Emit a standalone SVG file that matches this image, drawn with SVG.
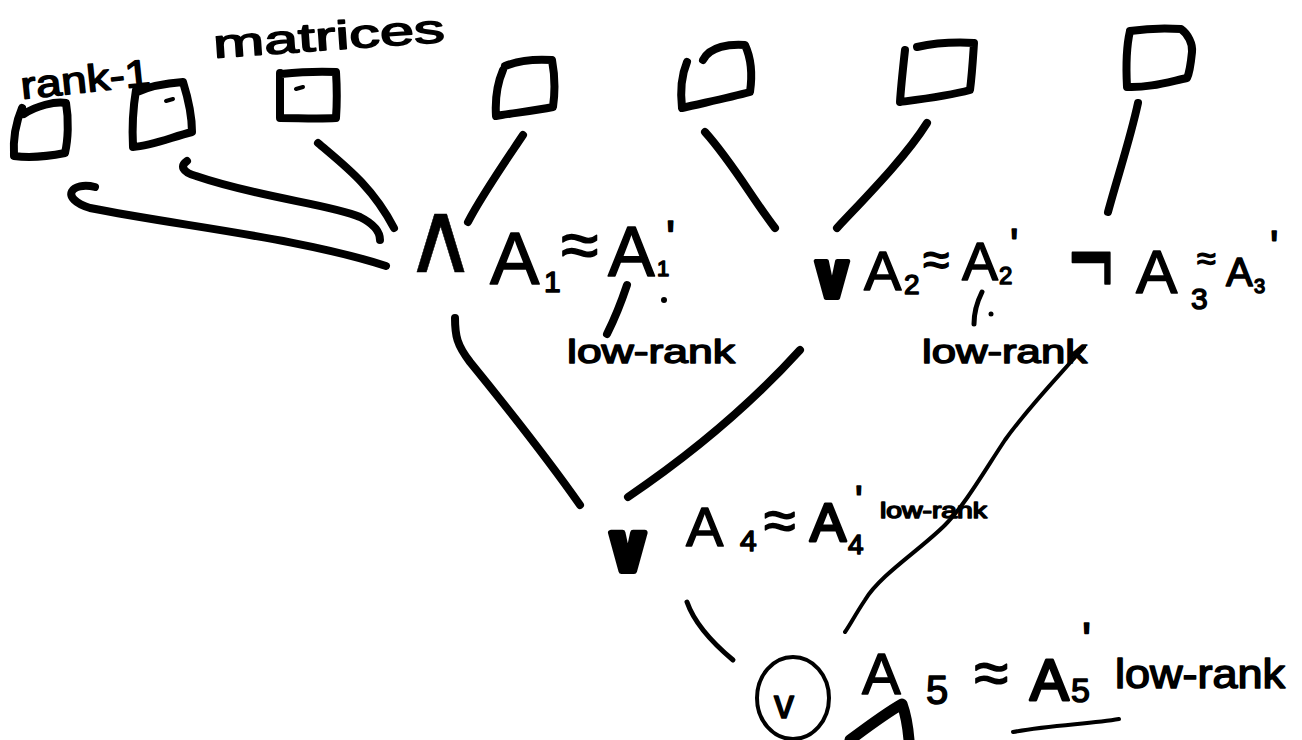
<svg xmlns="http://www.w3.org/2000/svg" width="1302" height="740" viewBox="0 0 1302 740">
  <style>
    .ink { fill: none; stroke: #000; stroke-linecap: round; stroke-linejoin: round; }
    .box { stroke-width: 8; }
    .edge { stroke-width: 8; }
    .thin { stroke-width: 4; }
    .hw { font-family: "Liberation Sans", "DejaVu Sans", sans-serif; fill: #000; stroke: #000; stroke-width: 1.5; stroke-linejoin: round; }
    .op { font-family: "DejaVu Sans", "Liberation Sans", sans-serif; fill: #000; stroke: #000; stroke-linejoin: round; }
  </style>
  <rect width="1302" height="740" fill="#fff"/>

  <!-- captions above the leaves -->
  <g id="caption-rank1">
    <text class="hw" x="22" y="99" font-size="38" textLength="130" lengthAdjust="spacingAndGlyphs" transform="rotate(-6 22 99)">rank-1</text>
  </g>
  <g id="caption-matrices">
    <text class="hw" x="214" y="58" font-size="40" textLength="232" lengthAdjust="spacingAndGlyphs" transform="rotate(-4 214 58)">matrices</text>
  </g>

  <!-- leaf matrices -->
  <g id="leaf-1">
    <path class="ink box" d="M24,114 C36,106 55,101 66,103 C69,120 68,140 65,153 C50,156 30,158 14,156 C13,140 16,122 22,108"/>
  </g>
  <g id="leaf-2">
    <path class="ink box" d="M137,92 C150,86 170,83 183,82 C188,98 192,115 192,132 C172,137 152,146 133,147 C132,128 133,108 136,90"/>
    <path class="ink" stroke-width="4" d="M166,101 L173,99"/>
  </g>
  <g id="leaf-3">
    <path class="ink box" d="M281,74 C300,72 318,71 336,72 C337,88 337,104 336,118 C318,119 298,118 280,118 C280,103 280,88 280,73"/>
    <path class="ink" stroke-width="4" d="M296,89 L303,87"/>
  </g>
  <g id="leaf-4">
    <path class="ink box" d="M505,66 C520,60 537,59 552,60 C555,76 555,93 553,107 C534,111 513,113 496,116 C495,100 497,84 503,70"/>
  </g>
  <g id="leaf-5">
    <path class="ink box" d="M703,60 C710,46 730,44 745,45 C752,60 752,78 750,92 C728,98 703,103 682,108 C680,90 682,74 687,62"/>
  </g>
  <g id="leaf-6">
    <path class="ink box" d="M905,50 C903,68 901,86 900,102 C923,99 948,96 970,90 C972,75 973,58 974,43 C955,42 935,43 917,47"/>
  </g>
  <g id="leaf-7">
    <path class="ink box" d="M1130,31 C1150,28 1166,28 1181,29 C1188,34 1193,44 1192,52 C1191,62 1190,72 1187,78 C1168,82 1148,88 1127,87 C1126,68 1126,48 1130,31"/>
  </g>

  <!-- connectors -->
  <g id="connectors">
    <path class="ink edge" d="M95,187 C72,181 58,198 90,208 C180,226 300,238 386,266"/>
    <path class="ink edge" d="M187,161 C180,166 182,172 196,176 C260,198 330,204 360,217 C374,224 380,232 380,240"/>
    <path class="ink edge" d="M318,143 C345,166 372,186 394,228"/>
    <path class="ink edge" d="M523,135 C505,162 482,195 468,222"/>
    <path class="ink edge" stroke-width="10" d="M705,132 C732,162 752,198 775,228"/>
    <path class="ink edge" stroke-width="9" d="M927,123 C905,158 865,198 837,228"/>
    <path class="ink edge" stroke-width="7" d="M1138,103 C1130,140 1118,175 1108,212"/>
    <path class="ink edge" stroke-width="7" d="M455,318 C455,336 457,345 470,362 C505,405 545,455 580,505"/>
    <path class="ink edge" stroke-width="6" d="M800,350 C750,405 690,455 628,497"/>
    <path class="ink thin" d="M1084,347 C1060,375 1030,405 1005,440 C985,470 965,505 945,525 C920,550 880,575 865,600 C855,615 850,625 845,632"/>
    <path class="ink" stroke-width="5" d="M687,602 C695,625 715,645 733,660"/>
    <!-- pointer strokes from the low-rank notes -->
    <path class="ink" stroke-width="8" d="M627,285 C622,300 615,318 607,334"/>
    <circle cx="664" cy="300" r="3"/>
    <path class="ink" stroke-width="5" d="M982,292 C977,302 974,313 974,324"/>
    <circle cx="991" cy="314" r="2.5"/>
  </g>

  <!-- level 1: A1 -->
  <g id="node-and-a1">
    <text class="op" x="404" y="272" font-size="100" stroke-width="0.5">∧</text>
    <text class="hw">
      <tspan x="490" y="284" font-size="74">A</tspan>
      <tspan x="544" y="292" font-size="30">1</tspan>
      <tspan x="561" y="268" font-size="68">≈</tspan>
      <tspan x="608" y="276" font-size="70">A</tspan>
      <tspan x="657" y="276" font-size="22">1</tspan>
      <tspan x="666" y="254" font-size="48">'</tspan>
    </text>
    <text class="hw" x="567" y="363" font-size="34" textLength="168" lengthAdjust="spacingAndGlyphs">low-rank</text>
  </g>

  <!-- level 1: A2 -->
  <g id="node-or-a2">
    <text class="op" x="806" y="298" font-size="64" font-weight="bold" stroke-width="4">∨</text>
    <text class="hw">
      <tspan x="864" y="290" font-size="56">A</tspan>
      <tspan x="904" y="294" font-size="28">2</tspan>
      <tspan x="923" y="276" font-size="48">≈</tspan>
      <tspan x="962" y="280" font-size="54">A</tspan>
      <tspan x="999" y="284" font-size="24">2</tspan>
      <tspan x="1010" y="260" font-size="44">'</tspan>
    </text>
    <text class="hw" x="922" y="363" font-size="34" textLength="165" lengthAdjust="spacingAndGlyphs">low-rank</text>
  </g>

  <!-- level 1: A3 -->
  <g id="node-not-a3">
    <text class="op" x="1066" y="166" font-size="60" stroke-width="1.5" transform="scale(1,1.8)">¬</text>
    <text class="hw">
      <tspan x="1136" y="293" font-size="62">A</tspan>
      <tspan x="1191" y="309" font-size="30">3</tspan>
      <tspan x="1197" y="270" font-size="34">≈</tspan>
      <tspan x="1226" y="286" font-size="40">A</tspan>
      <tspan x="1254" y="293" font-size="20">3</tspan>
      <tspan x="1270" y="262" font-size="44">'</tspan>
    </text>
  </g>

  <!-- level 2: A4 -->
  <g id="node-or-a4">
    <text class="op" x="601" y="571" font-size="66" font-weight="bold" stroke-width="6">∨</text>
    <text class="hw">
      <tspan x="686" y="546" font-size="56">A</tspan>
      <tspan x="740" y="551" font-size="30">4</tspan>
      <tspan x="764" y="540" font-size="58">≈</tspan>
      <tspan x="810" y="541" font-size="54" stroke-width="3">A</tspan>
      <tspan x="848" y="554" font-size="28">4</tspan>
      <tspan x="855" y="514" font-size="40">'</tspan>
    </text>
    <text class="hw" x="880" y="518" font-size="22" stroke-width="1" textLength="107" lengthAdjust="spacingAndGlyphs">low-rank</text>
  </g>

  <!-- level 3: A5 (root) -->
  <g id="node-or-a5">
    <ellipse class="ink" cx="793" cy="698" rx="36" ry="41" stroke-width="4"/>
    <text class="hw" x="774" y="718" font-size="40">v</text>
    <text class="hw">
      <tspan x="862" y="694" font-size="58">A</tspan>
      <tspan x="926" y="704" font-size="40">5</tspan>
      <tspan x="974" y="694" font-size="62">≈</tspan>
      <tspan x="1030" y="700" font-size="58" stroke-width="3">A</tspan>
      <tspan x="1071" y="702" font-size="34">5</tspan>
      <tspan x="1082" y="656" font-size="48">'</tspan>
    </text>
    <text class="hw" x="1115" y="688" font-size="40" textLength="170" lengthAdjust="spacingAndGlyphs">low-rank</text>
    <path class="ink" stroke-width="4" d="M1013,732 C1050,725 1090,724 1119,719"/>
    <path class="ink" stroke-width="11" d="M850,740 C870,725 888,712 902,704 C906,715 908,728 909,740"/>
  </g>
</svg>
